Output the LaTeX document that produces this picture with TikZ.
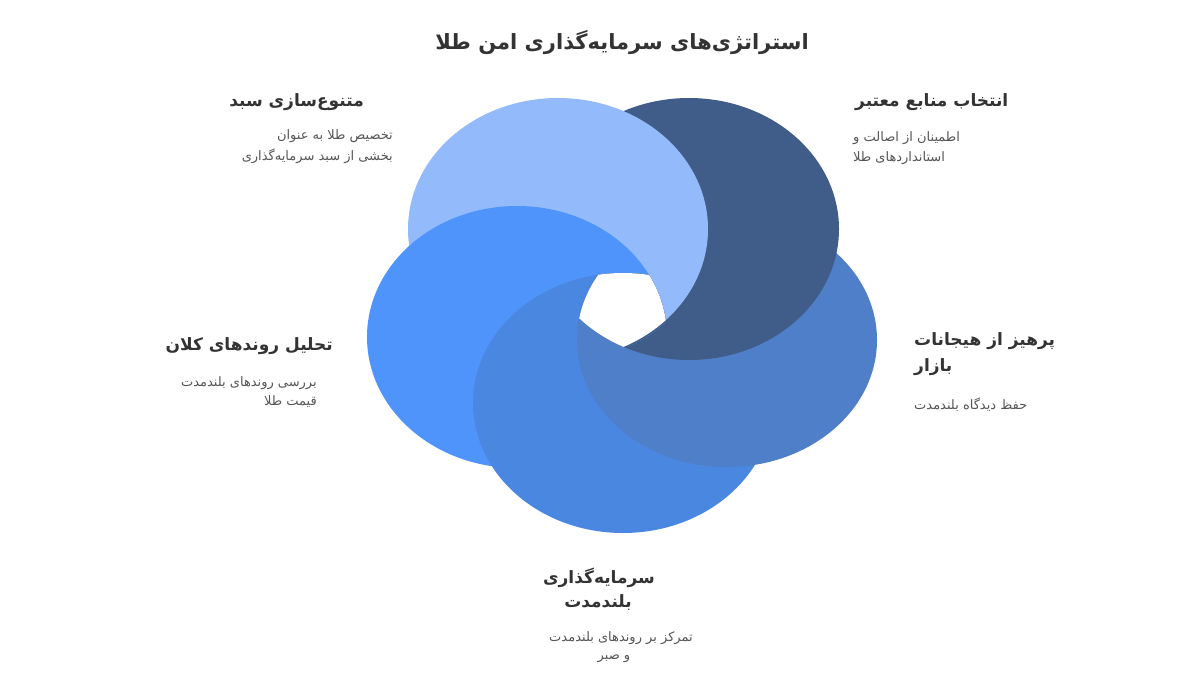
\documentclass[tikz,border=0pt]{standalone}
\usepackage{fontspec}
\TeXXeTstate=1
\newfontfamily\ar[Script=Arabic]{DejaVu Sans}
\definecolor{clight}{RGB}{147,187,251}
\definecolor{cnavy}{RGB}{64,93,137}
\definecolor{cright}{RGB}{79,127,200}
\definecolor{cbottom}{RGB}{74,135,224}
\definecolor{cleft}{RGB}{79,148,250}
\definecolor{chead}{RGB}{51,51,51}
\definecolor{cdesc}{RGB}{85,85,85}
\tikzset{
  ttl/.style={inner sep=0pt, text=chead, font=\ar\bfseries\fontsize{21}{24}\selectfont},
  head/.style={inner sep=0pt, text=chead, font=\ar\bfseries\fontsize{17}{20}\selectfont},
  desc/.style={inner sep=0pt, text=cdesc, font=\ar\fontsize{13}{15}\selectfont}
}
\newcommand{\ellL}{(558pt,-229pt) ellipse [x radius=150pt, y radius=131pt]}
\newcommand{\ellLbig}{(558pt,-229pt) ellipse [x radius=151.5pt, y radius=132.5pt]}
\newcommand{\ellN}{(689pt,-229pt) ellipse [x radius=150pt, y radius=131pt]}
\newcommand{\ellR}{(727pt,-340pt) ellipse [x radius=150pt, y radius=127pt]}
\newcommand{\ellB}{(623pt,-403pt) ellipse [x radius=150pt, y radius=130pt]}
\newcommand{\ellF}{(517pt,-337pt) ellipse [x radius=150pt, y radius=131pt]}
\begin{document}
\begin{tikzpicture}[x=1pt,y=-1pt]
\fill[white] (0,0) rectangle (1200,675);
\useasboundingbox (0,0) rectangle (1200,675);
% petals, linear order
\fill[cleft] \ellF;
\fill[cbottom] \ellB;
\fill[cright] \ellR;
\fill[cnavy] \ellN;
\fill[clight] \ellL;
% close the cycle: left petal lies over the light one
\begin{scope}
  \clip \ellLbig;
  \fill[cleft] \ellF;
  \clip \ellF;
  \fill[cbottom] \ellB;
  \clip \ellB;
  \fill[cright] \ellR;
  \clip \ellR;
  \fill[cnavy] \ellN;
  \clip \ellN;
  \fill[white] \ellL;
\end{scope}
% title
\node[ttl] (title) at (622,43) {\beginR استراتژی‌های سرمایه‌گذاری امن طلا\endR};
% top-left
\node[head, anchor=east] (h1) at (364,102) {\beginR متنوع‌سازی سبد\endR};
\node[desc, anchor=east] (d1a) at (393,136) {\beginR تخصیص طلا به عنوان\endR};
\node[desc, anchor=east] (d1b) at (393,156) {\beginR بخشی از سبد سرمایه‌گذاری\endR};
% top-right
\node[head, anchor=west] (h2) at (855,102) {\beginR انتخاب منابع معتبر\endR};
\node[desc, anchor=west] (d2a) at (853,138) {\beginR اطمینان از اصالت و\endR};
\node[desc, anchor=west] (d2b) at (853,158) {\beginR استانداردهای طلا\endR};
% left
\node[head, anchor=east] (h3) at (333,346) {\beginR تحلیل روندهای کلان\endR};
\node[desc, anchor=east] (d3a) at (317,383) {\beginR بررسی روندهای بلندمدت\endR};
\node[desc, anchor=east] (d3b) at (317,402) {\beginR قیمت طلا\endR};
% right
\node[head, anchor=west] (h4a) at (914,341) {\beginR پرهیز از هیجانات\endR};
\node[head, anchor=west] (h4b) at (914,367) {\beginR بازار\endR};
\node[desc, anchor=west] (d4) at (914,405) {\beginR حفظ دیدگاه بلندمدت\endR};
% bottom
\node[head] (h5a) at (599,578) {\beginR سرمایه‌گذاری\endR};
\node[head] (h5b) at (598,603) {\beginR بلندمدت\endR};
\node[desc] (d5a) at (621,638) {\beginR تمرکز بر روندهای بلندمدت\endR};
\node[desc] (d5b) at (614,659) {\beginR و صبر\endR};
\end{tikzpicture}
\end{document}
